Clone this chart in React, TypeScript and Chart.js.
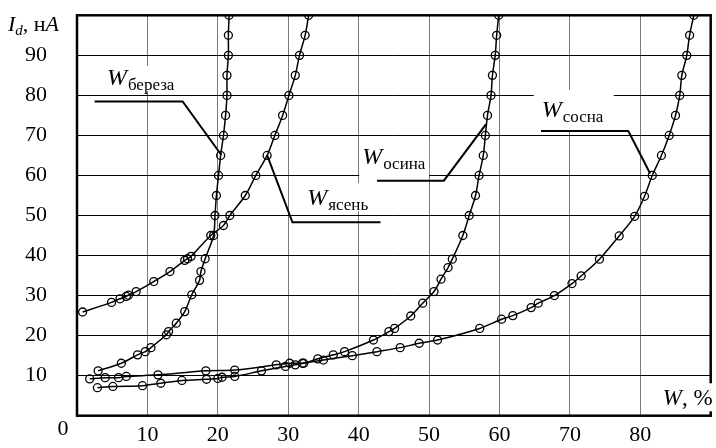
import React, { useEffect, useRef } from 'react';
import { Chart, registerables } from 'chart.js';

Chart.register(...registerables);

// ---- data (W, % ; I_d, nA) ----
const birchW = [3.0, 6.3, 8.6, 9.7, 10.5, 12.7, 13.0, 14.1, 15.3, 16.3, 17.4, 17.6, 18.2, 19.4, 19.6, 19.8, 20.1, 20.4, 20.8, 21.1, 21.3, 21.3, 21.5, 21.5, 21.6];
const birchI = [11.2, 13.1, 15.2, 16.0, 17.0, 20.2, 21.0, 23.1, 26.0, 30.2, 33.8, 36.0, 39.2, 45.0, 50.0, 55.0, 60.0, 65.0, 70.0, 75.0, 80.0, 85.0, 90.0, 95.0, 100.0];

const ashW = [0.8, 4.9, 6.1, 7.0, 7.3, 8.4, 10.9, 13.2, 15.3, 15.7, 16.2, 19.0, 20.8, 21.7, 23.9, 25.4, 27.0, 28.1, 29.2, 30.1, 31.0, 31.6, 32.4, 32.9];
const ashI = [25.9, 28.3, 29.2, 29.8, 30.1, 31.0, 33.5, 36.0, 38.8, 39.2, 39.8, 45.0, 47.5, 50.0, 55.0, 60.0, 65.0, 70.0, 75.0, 80.0, 85.0, 90.0, 95.0, 100.0];

const aspenW = [2.9, 5.1, 9.3, 11.9, 14.9, 18.4, 20.0, 20.6, 22.4, 26.2, 29.6, 31.0, 32.2, 34.2, 36.4, 38.0, 42.1, 44.3, 45.1, 47.4, 49.1, 50.7, 51.7, 52.7, 53.3, 54.8, 55.7, 56.6, 57.1, 57.7, 58.0, 58.3, 58.8, 59.0, 59.4, 59.6, 59.9];
const aspenI = [7.0, 7.3, 7.5, 8.1, 8.8, 9.1, 9.3, 9.6, 9.8, 11.2, 12.3, 12.7, 13.1, 14.2, 15.2, 16.0, 18.9, 21.0, 21.8, 24.9, 28.1, 31.0, 34.1, 37.0, 39.1, 45.0, 50.0, 55.0, 60.0, 65.0, 70.0, 75.0, 80.0, 85.0, 90.0, 95.0, 100.0];

const pineW = [1.8, 4.0, 5.9, 7.0, 11.5, 18.3, 22.4, 28.3, 30.2, 32.0, 35.0, 39.1, 42.6, 45.9, 48.6, 51.2, 57.2, 60.3, 61.9, 64.5, 65.5, 67.8, 70.3, 71.6, 74.2, 77.0, 79.2, 80.6, 81.7, 83.0, 84.1, 85.0, 85.6, 85.9, 86.6, 87.0, 87.6];
const pineI = [9.2, 9.5, 9.5, 9.8, 10.2, 11.2, 11.4, 12.7, 13.1, 13.1, 13.9, 15.0, 16.0, 17.0, 18.1, 18.9, 21.8, 24.1, 25.0, 27.0, 28.1, 30.0, 33.0, 34.9, 39.1, 44.9, 49.8, 54.8, 60.0, 65.0, 70.0, 75.0, 80.0, 85.0, 90.0, 95.0, 100.0];

const seriesNames = ['береза', 'ясень', 'осина', 'сосна'];
const xTitleMain = 'W';
const xTitleRest = ', %';
const originLabel = '0';

const FONT = '"Liberation Serif", "Times New Roman", serif';

// label annotations: text anchor (data units), leader polyline (data units), white box (px offsets from anchor)
const labels = [
  { sub: 'береза', w: 4.25, i: 82.6, leader: [[2.5, 78.5], [15.0, 78.5], [20.5, 65.1]], box: [-5, -19, 80, 25] },
  { sub: 'ясень', w: 32.7, i: 52.6, leader: [[27.0, 65.1], [30.6, 48.3], [43.1, 48.3]], box: [-6, -22, 74, 28] },
  { sub: 'осина', w: 40.5, i: 62.8, leader: [[42.6, 58.7], [52.1, 58.7], [58.1, 72.8]], box: [-3, -24, 70, 36] },
  { sub: 'сосна', w: 66.0, i: 74.6, leader: [[65.9, 71.1], [78.3, 71.1], [81.4, 60.5]], box: [-8, -27, 80, 40] },
];

const toPts = (ws: number[], is: number[]) => ws.map((w, k) => ({ x: w, y: is[k] }));

const annotPlugin = {
  id: 'annot',
  beforeDatasetsDraw(chart: any) {
    const { ctx, scales } = chart;
    const x = scales.x, y = scales.y;
    ctx.save();
    ctx.fillStyle = '#ffffff';
    for (const lb of labels) {
      const px = x.getPixelForValue(lb.w), py = y.getPixelForValue(lb.i);
      ctx.fillRect(px + lb.box[0], py + lb.box[1], lb.box[2], lb.box[3]);
    }
    ctx.restore();
  },
  afterDatasetsDraw(chart: any) {
    const { ctx, scales, chartArea } = chart;
    const x = scales.x, y = scales.y;
    ctx.save();
    // frame
    ctx.strokeStyle = '#000';
    ctx.lineWidth = 2.5;
    ctx.strokeRect(chartArea.left, chartArea.top, chartArea.right - chartArea.left, chartArea.bottom - chartArea.top);

    // leaders + labels
    ctx.lineWidth = 2;
    for (const lb of labels) {
      ctx.beginPath();
      lb.leader.forEach((p, k) => {
        const px = x.getPixelForValue(p[0]), py = y.getPixelForValue(p[1]);
        if (k === 0) ctx.moveTo(px, py); else ctx.lineTo(px, py);
      });
      ctx.stroke();
      const px = x.getPixelForValue(lb.w), py = y.getPixelForValue(lb.i);
      ctx.fillStyle = '#000';
      ctx.textBaseline = 'alphabetic';
      ctx.textAlign = 'left';
      ctx.font = `italic 24px ${FONT}`;
      ctx.fillText('W', px, py);
      const ww = ctx.measureText('W').width;
      ctx.font = `17px ${FONT}`;
      ctx.fillText(lb.sub, px + ww + 1, py + 5);
    }

    // x title W, %
    const tx = x.getPixelForValue(83.2), ty = y.getPixelForValue(2.6);
    ctx.fillStyle = '#fff';
    ctx.fillRect(tx - 10, ty - 22, 716 - tx + 10, 28);
    ctx.fillStyle = '#000';
    ctx.font = `italic 23px ${FONT}`;
    ctx.fillText(xTitleMain, tx, ty);
    const w1 = ctx.measureText(xTitleMain).width;
    ctx.font = `23px ${FONT}`;
    ctx.fillText(xTitleRest, tx + w1, ty);

    // y title I_d, нА
    let cx = 8;
    const by = y.getPixelForValue(96.1);
    ctx.font = `italic 22px ${FONT}`;
    ctx.fillText('I', cx, by); cx += ctx.measureText('I').width;
    ctx.font = `italic 15px ${FONT}`;
    ctx.fillText('d', cx, by + 4); cx += ctx.measureText('d').width;
    ctx.font = `22px ${FONT}`;
    ctx.fillText(', н', cx, by); cx += ctx.measureText(', н').width;
    ctx.font = `italic 22px ${FONT}`;
    ctx.fillText('A', cx, by);

    // origin label
    ctx.font = `22px ${FONT}`;
    ctx.textAlign = 'center';
    ctx.textBaseline = 'middle';
    ctx.fillText(originLabel, chartArea.left - 14, chartArea.bottom + 14);
    ctx.restore();
  },
};

export default function App() {
  const ref = useRef<HTMLCanvasElement | null>(null);
  useEffect(() => {
    if (!ref.current) return;
    const ds = (ws: number[], is: number[], name: string) => ({
      label: name,
      data: toPts(ws, is),
      showLine: true,
      borderColor: '#000',
      borderWidth: 1.5,
      tension: 0.3,
      pointRadius: 4,
      pointBorderWidth: 1.3,
      pointBorderColor: '#000',
      pointBackgroundColor: 'rgba(0,0,0,0)',
      fill: false,
    });
    const chart = new Chart(ref.current, {
      type: 'scatter',
      data: {
        datasets: [
          ds(birchW, birchI, seriesNames[0]),
          ds(ashW, ashI, seriesNames[1]),
          ds(aspenW, aspenI, seriesNames[2]),
          ds(pineW, pineI, seriesNames[3]),
        ],
      },
      options: {
        animation: false,
        responsive: false,
        maintainAspectRatio: false,
        layout: { padding: { top: 15.3, right: 3.5, left: 0, bottom: 0 } },
        plugins: { legend: { display: false }, tooltip: { enabled: false } },
        scales: {
          x: {
            type: 'linear',
            min: 0,
            max: 90,
            afterFit: (s: any) => { s.height = 32.3; s.paddingLeft = 0; s.paddingRight = 0; s.paddingTop = 0; s.paddingBottom = 0; },
            border: { display: false },
            grid: { color: '#7a7a7a', lineWidth: 1, drawTicks: false },
            ticks: {
              stepSize: 10,
              padding: 6,
              color: '#000',
              font: { family: FONT, size: 22 },
              maxRotation: 0,
              callback: (v: any) => (v > 0 && v < 90 ? String(v) : ''),
            },
          },
          y: {
            type: 'linear',
            min: 0,
            max: 100,
            afterFit: (s: any) => { s.width = 77; s.paddingLeft = 0; s.paddingRight = 0; s.paddingTop = 0; s.paddingBottom = 0; },
            border: { display: false },
            grid: { color: '#000', lineWidth: 1, drawTicks: false },
            ticks: {
              stepSize: 10,
              padding: 30,
              color: '#000',
              font: { family: FONT, size: 22 },
              callback: (v: any) => (v > 0 && v < 100 ? String(v) : ''),
            },
          },
        },
      },
      plugins: [annotPlugin],
    });
    return () => chart.destroy();
  }, []);
  return (
    <div style={{ position: 'absolute', left: 0, top: 0, width: 716, height: 448, background: '#fff' }}>
      <canvas ref={ref} width={716} height={448} style={{ width: 716, height: 448 }} />
    </div>
  );
}
